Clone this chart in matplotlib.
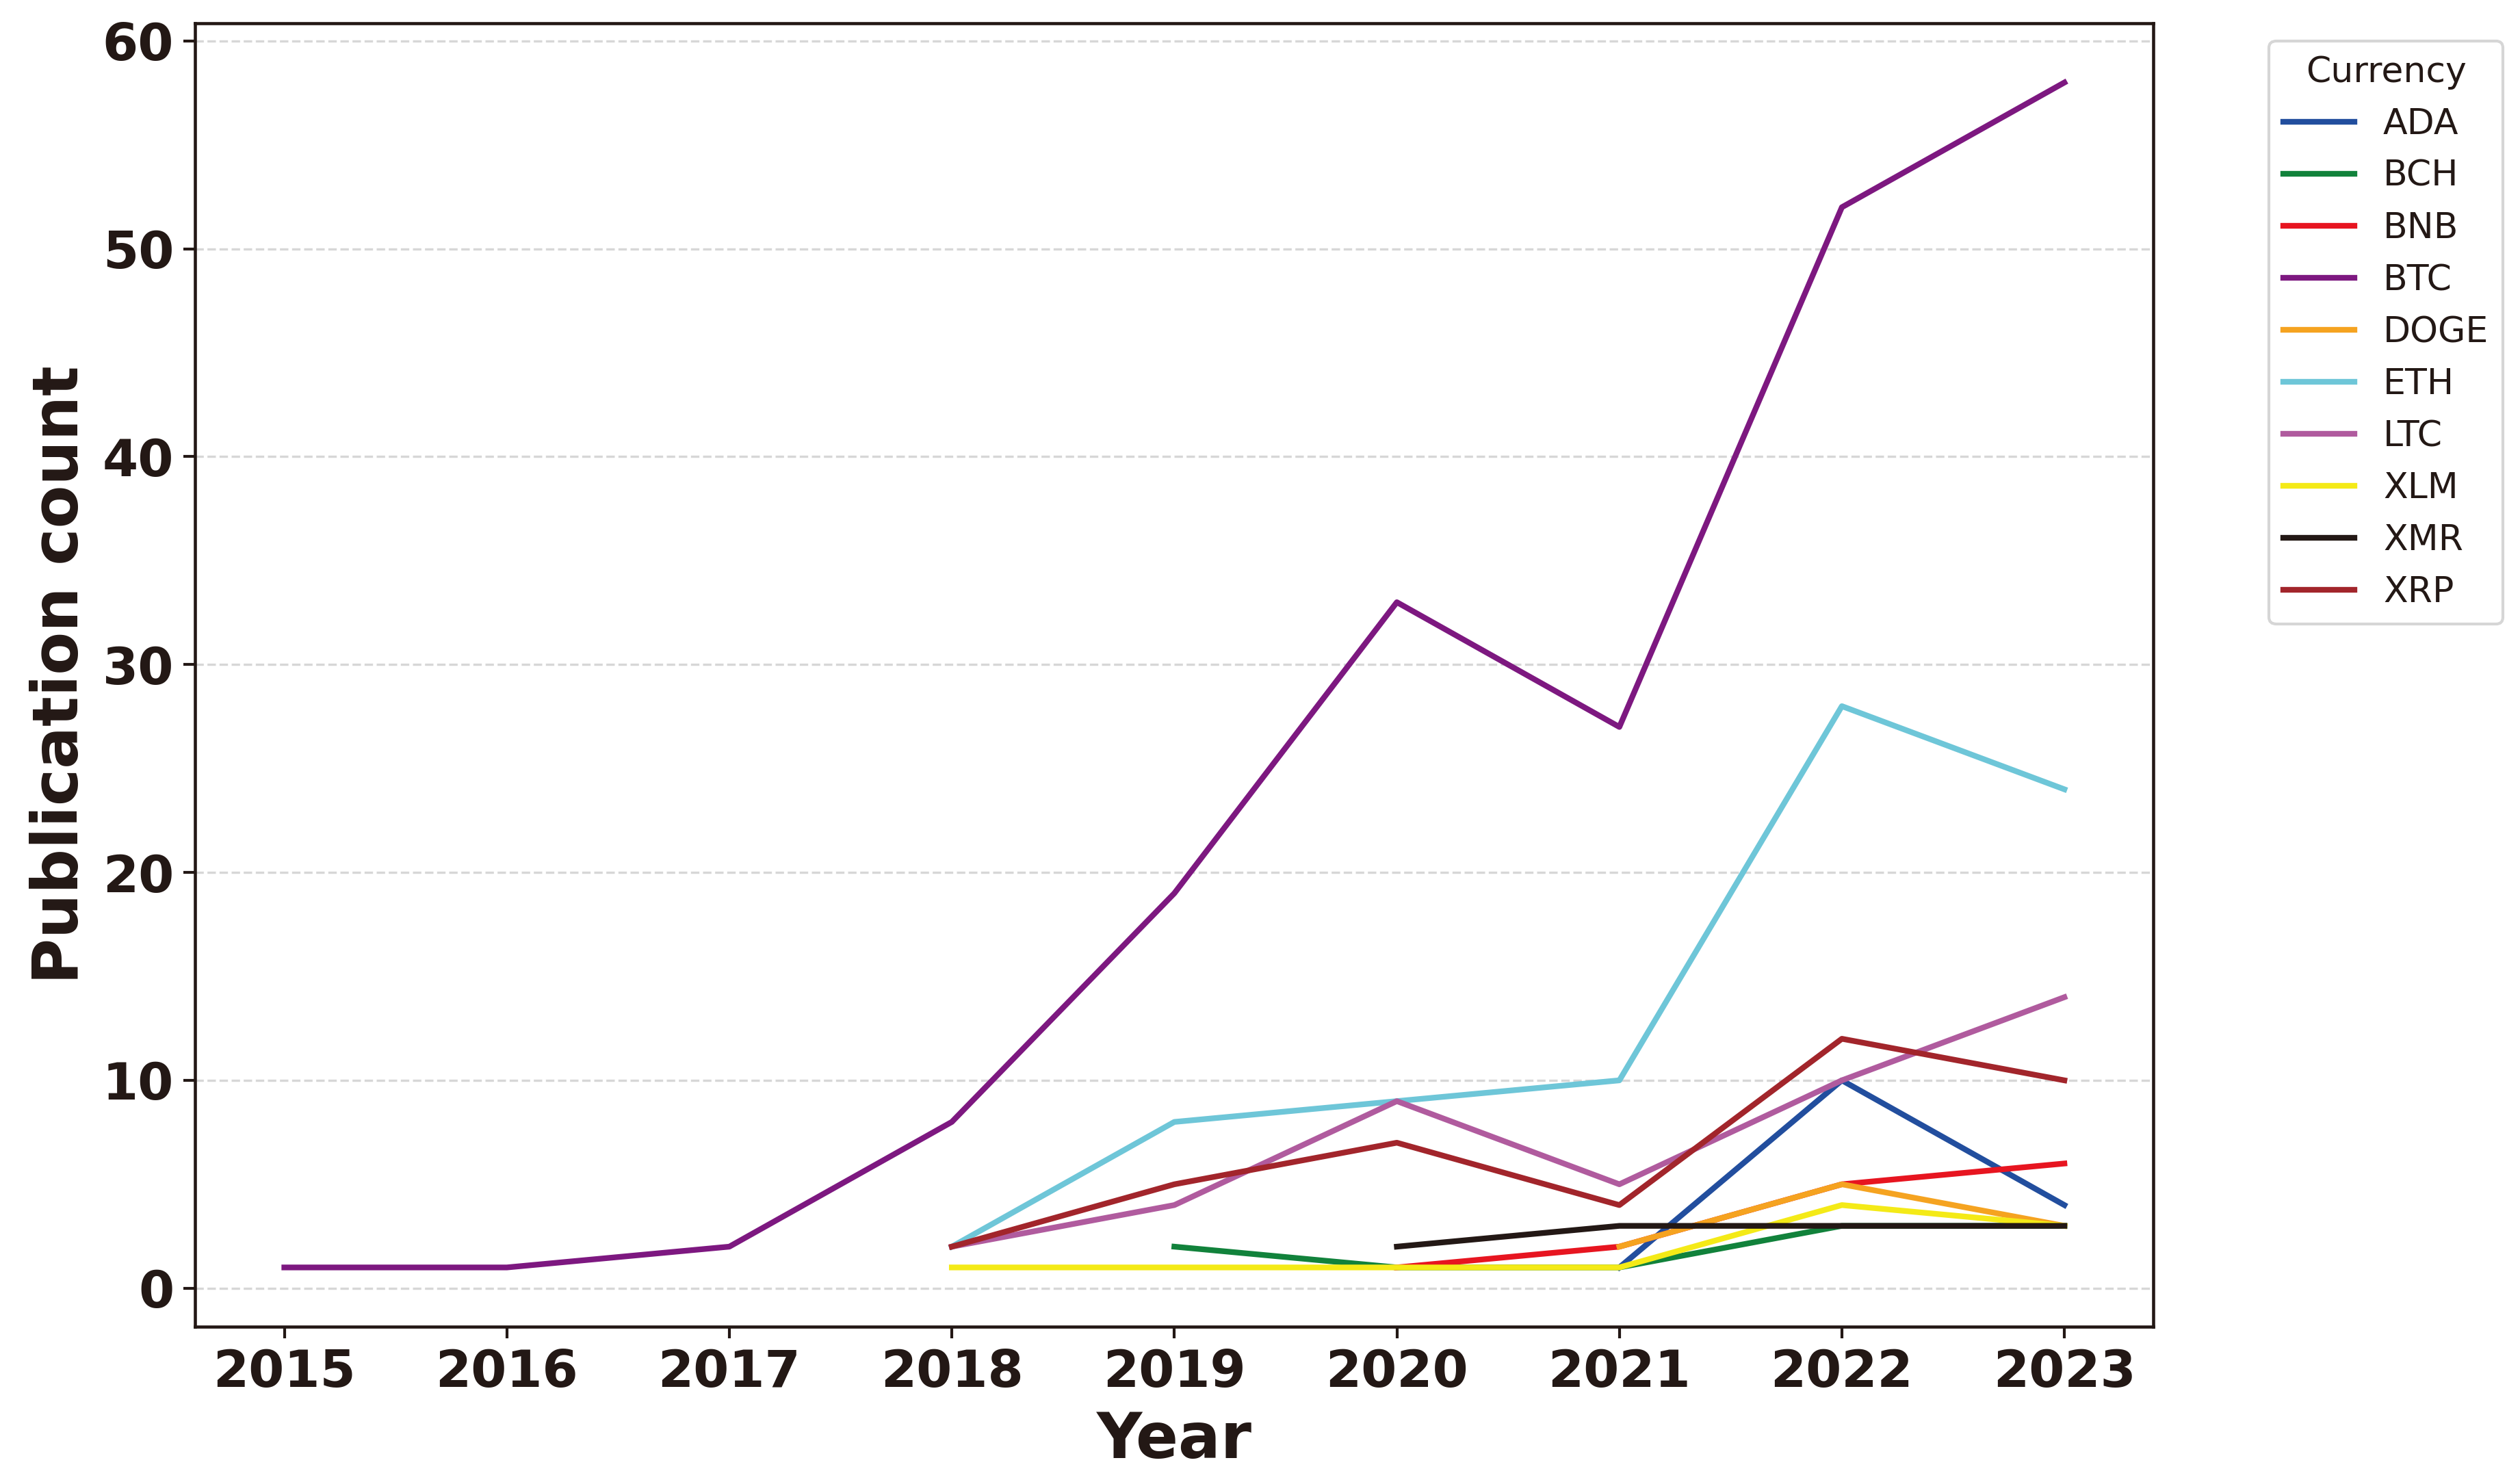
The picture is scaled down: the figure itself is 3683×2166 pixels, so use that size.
import matplotlib
matplotlib.use("Agg")
import matplotlib.pyplot as plt

# publication counts per currency
years_btc = [2015, 2016, 2017, 2018, 2019, 2020, 2021, 2022, 2023]
btc = [1, 1, 2, 8, 19, 33, 27, 52, 58]

years_1823 = [2018, 2019, 2020, 2021, 2022, 2023]
eth = [2, 8, 9, 10, 28, 24]
ltc = [2, 4, 9, 5, 10, 14]
xrp = [2, 5, 7, 4, 12, 10]
xlm = [1, 1, 1, 1, 4, 3]

years_bch = [2019, 2020, 2021, 2022, 2023]
bch = [2, 1, 1, 3, 3]

years_2023 = [2020, 2021, 2022, 2023]
bnb = [1, 2, 5, 6]
xmr = [2, 3, 3, 3]

years_2123 = [2021, 2022, 2023]
ada = [1, 10, 4]
doge = [2, 5, 3]

series = [
    ("ADA", years_2123, ada, "#224E9E"),
    ("BCH", years_bch, bch, "#11823B"),
    ("BNB", years_2023, bnb, "#E71520"),
    ("BTC", years_btc, btc, "#7D1880"),
    ("DOGE", years_2123, doge, "#F5A320"),
    ("ETH", years_1823, eth, "#6EC6D8"),
    ("LTC", years_1823, ltc, "#B05B9E"),
    ("XLM", years_1823, xlm, "#F4EA17"),
    ("XMR", years_2023, xmr, "#231815"),
    ("XRP", years_1823, xrp, "#A2252B"),
]

dark = "#231815"
plt.rcParams["font.family"] = "DejaVu Sans"
plt.rcParams["text.color"] = dark

fig = plt.figure(figsize=(12.277, 7.22), dpi=300)
ax = fig.add_axes([0.0775, 0.1048, 0.777, 0.8795])

for name, xs, ys, col in series:
    ax.plot(xs, ys, color=col, linewidth=2.0, label=name)

ax.set_xticks(years_btc)
ax.tick_params(axis="both", labelsize=18, colors=dark, width=1.0, length=4)
for lab in ax.get_xticklabels() + ax.get_yticklabels():
    lab.set_fontweight("bold")
for sp in ax.spines.values():
    sp.set_color(dark)
    sp.set_linewidth(1.1)

ax.grid(axis="y", linestyle="--", alpha=0.5)
ax.set_axisbelow(True)

ax.set_xlabel("Year", fontsize=22, fontweight="bold", color=dark, labelpad=4)
ax.set_ylabel("Publication count", fontsize=22, fontweight="bold", color=dark)

leg = ax.legend(title="Currency", bbox_to_anchor=(1.05, 1), loc="upper left",
                fontsize=12.5, title_fontsize=12.5)
for t in leg.get_texts():
    t.set_color(dark)

fig.savefig("out.png", dpi=300)
